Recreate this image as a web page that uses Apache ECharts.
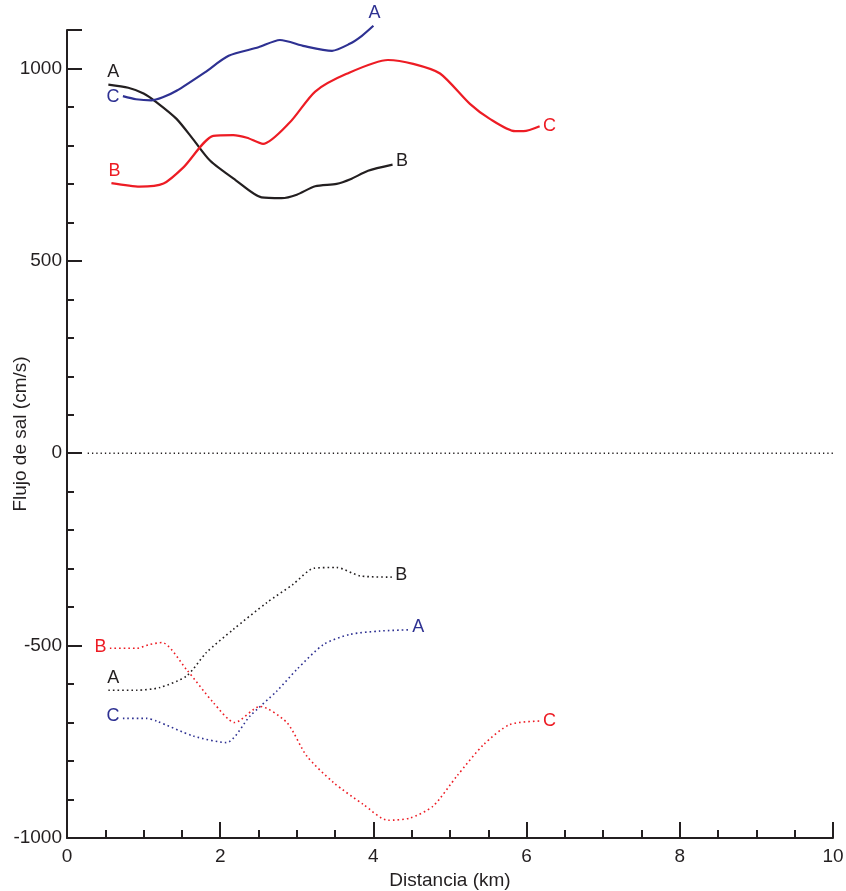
<!DOCTYPE html>
<html>
<head>
<meta charset="utf-8">
<script src="https://cdn.jsdelivr.net/npm/echarts@6/dist/echarts.min.js"></script>
<style>
  html, body { margin: 0; padding: 0; background: #fff; }
  #chart { width: 846px; height: 891px; }
</style>
</head>
<body>
<div id="chart"></div>
<script>
// salt flux (cm/s) vs distance (km); solid = positive, dotted = negative
const solidAB = [[0.54,958],[0.8,950],[1.0,935],[1.17,912],[1.43,869],[1.65,815],[1.87,760],[2.2,710],[2.54,665],[2.8,663],[3.0,672],[3.24,694],[3.52,700],[3.7,712],[3.93,734],[4.25,750]];
const solidCA = [[0.73,928],[0.9,920],[1.1,917],[1.25,925],[1.43,942],[1.8,990],[2.11,1033],[2.5,1055],[2.78,1074],[3.1,1058],[3.46,1046],[3.69,1064],[3.85,1085],[4.0,1111]];
const solidBC = [[0.58,702],[0.95,693],[1.26,701],[1.52,743],[1.91,825],[2.17,827],[2.35,820],[2.56,804],[2.91,860],[3.24,940],[3.65,986],[4.19,1022],[4.52,1012],[4.87,987],[5.26,908],[5.52,869],[5.85,837],[5.96,837],[6.17,850]];

const dotAB = [[0.54,-616],[0.91,-616],[1.21,-609],[1.56,-579],[1.82,-518],[2.17,-458],[2.61,-388],[2.95,-341],[3.22,-299],[3.52,-297],[3.83,-319],[4.24,-322]];
const dotCA = [[0.73,-689],[1.04,-689],[1.17,-696],[1.65,-735],[2.08,-752],[2.39,-683],[2.74,-618],[3.0,-562],[3.35,-497],[3.69,-471],[4.09,-462],[4.46,-459]];
const dotBC = [[0.56,-507],[0.91,-507],[1.08,-497],[1.24,-492],[1.56,-562],[1.91,-648],[2.19,-700],[2.52,-658],[2.87,-700],[3.13,-787],[3.48,-856],[3.87,-913],[4.19,-954],[4.48,-948],[4.78,-917],[5.09,-839],[5.44,-757],[5.78,-705],[6.17,-696]];

const zeroLine = [[0.27,0],[10,0]];
const yLabels = [-1000, -500, 0, 500, 1000];

const BLACK = '#231f20', BLUE = '#2e3192', RED = '#ed1c24';
const FONT = 'Liberation Sans';

function lbl(text, pos, color, off) {
  return { show: true, formatter: text, position: pos, distance: 3, offset: off || [0, 0],
           color: color, fontFamily: FONT, fontSize: 18 };
}

function line(points, color, dotted, start, end) {
  const last = points.length - 1;
  const data = points.map((p, i) => {
    if (i === 0 || i === last) {
      const s = i === 0 ? start : end;
      return { value: p, symbol: 'circle', symbolSize: 1,
               itemStyle: { color: 'rgba(0,0,0,0)' }, label: lbl(s[0], s[1], color, s[2]) };
    }
    return { value: p, symbol: 'none' };
  });
  return {
    type: 'line', data: data, smooth: 0.25, showSymbol: true,
    clip: false, silent: true,
    lineStyle: dotted ? { color: color, width: 1.6, type: [1.6, 3] } : { color: color, width: 2.2 },
    itemStyle: { color: color }
  };
}

const chart = echarts.init(document.getElementById('chart'), null, { renderer: 'canvas' });
chart.setOption({
  animation: false,
  backgroundColor: '#fff',
  grid: { left: 67, right: 13, top: 30, bottom: 53, containLabel: false, outerBoundsMode: 'none' },
  xAxis: {
    type: 'value', min: 0, max: 10, interval: 2,
    name: 'Distancia (km)', nameLocation: 'middle', nameGap: 32,
    nameTextStyle: { color: BLACK, fontFamily: FONT, fontSize: 19 },
    axisLine: { onZero: false, lineStyle: { color: BLACK, width: 2 } },
    axisTick: { inside: true, length: 16, lineStyle: { color: BLACK, width: 2 } },
    minorTick: { show: true, splitNumber: 4, length: 8, lineStyle: { color: BLACK, width: 2 } },
    axisLabel: { color: BLACK, fontFamily: FONT, fontSize: 19, margin: 9 },
    splitLine: { show: false }
  },
  yAxis: {
    type: 'value', min: -1000, max: 1100, interval: 500,
    name: 'Flujo de sal (cm/s)', nameLocation: 'middle', nameGap: 37, nameMoveOverlap: false,
    nameTextStyle: { color: BLACK, fontFamily: FONT, fontSize: 19 },
    axisLine: { onZero: false, lineStyle: { color: BLACK, width: 2 } },
    axisTick: { inside: true, length: 15, lineStyle: { color: BLACK, width: 2 } },
    minorTick: { show: true, splitNumber: 5, length: 7, lineStyle: { color: BLACK, width: 2 } },
    axisLabel: { color: BLACK, fontFamily: FONT, fontSize: 19, margin: 5,
                 formatter: v => yLabels.indexOf(v) >= 0 ? String(v) : '' },
    splitLine: { show: false }
  },
  series: [
    { type: 'line', data: zeroLine, symbol: 'none', silent: true,
      lineStyle: { color: BLACK, width: 1.3, type: [1.3, 3] } },
    line(solidAB, BLACK, false, ['A', 'top', [5, 0]], ['B', 'right', [0, -4]]),
    line(solidCA, BLUE, false, ['C', 'left', [0, 1]], ['A', 'top', [1, 0]]),
    line(solidBC, RED, false, ['B', 'top', [3, 0]], ['C', 'right', [0, 0]]),
    line(dotAB, BLACK, true, ['A', 'top', [5, 0]], ['B', 'right', [0, -2]]),
    line(dotCA, BLUE, true, ['C', 'left', [0, -2]], ['A', 'right', [0, -3]]),
    line(dotBC, RED, true, ['B', 'left', [0, -1]], ['C', 'right', [0, 0]])
  ]
});
</script>
</body>
</html>
